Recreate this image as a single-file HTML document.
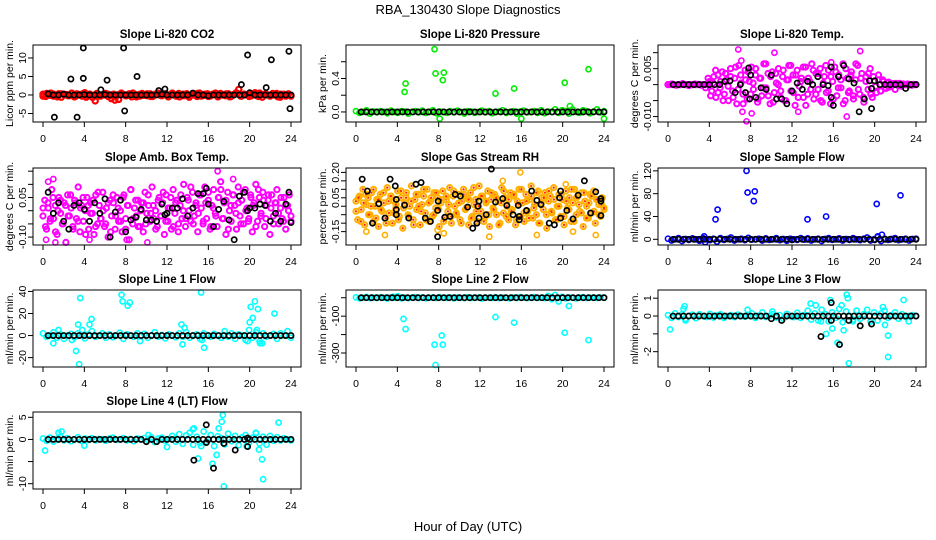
<!DOCTYPE html>
<html><head><meta charset="utf-8"><style>
html,body{margin:0;padding:0;background:#fff;}
svg{display:block;font-family:"Liberation Sans",Arial,sans-serif;}
</style></head><body>
<svg id="chart" width="936" height="540" viewBox="0 0 936 540">
<rect x="0" y="0" width="936" height="540" fill="#fff"/>
<text x="468" y="14" font-size="13" text-anchor="middle">RBA_130430  Slope Diagnostics</text>
<text x="468" y="531" font-size="13" text-anchor="middle">Hour of Day (UTC)</text>
</svg>
<script>
// ---- data arrays ----
const xTicks = [0,4,8,12,16,20,24];
const panelTitles = ["Slope Li-820 CO2","Slope Li-820 Pressure","Slope Li-820 Temp.","Slope Amb. Box Temp.","Slope Gas Stream RH","Slope Sample Flow","Slope Line 1 Flow","Slope Line 2 Flow","Slope Line 3 Flow","Slope Line 4 (LT) Flow"];
const yTitles = ["Licor ppm per min.","kPa per min.","degrees C per min.","degrees C per min.","percent per min.","ml/min per min.","ml/min per min.","ml/min per min.","ml/min per min.","ml/min per min."];

const co2Vals = [0.2,-0.4,0.1,0.5,-0.3,0,0.3,-0.6,0.2,0.1,-0.2,0.4,-0.5,0.3,0,-0.3,0.6,-0.1,0.2,-0.7,-1.6,0.3,-0.2,0.1,0.4,-0.4,0,0.2,-0.3,-1.2,0.5,0.1,-0.2,0.3,-0.5,0.2,0,-0.3,0.4,0.1,-0.2,0.3,-0.4,0.2,0.5,-0.1,0,0.3,-0.5,0.2,0.1,-0.3,0.4,0,-0.2,0.3,-0.6,0.1,0.2,-0.4,0.5,0,-0.1,0.3,-0.3,0.2,0.1,-0.5,0.4,0,-0.2,0.3,-0.4,0.1,0.6,1.5,-0.3,0.2,0,-0.4,0.3,0.1,-0.2,0.5,-0.6,0.2,0,-0.3,0.4,0.1,-0.5,0.2,0,-0.3,0.3,-0.2];
const co2Vals2 = [-0.3,0.4,-0.1,0.2,-0.5,0.3,0,-0.2,0.5,-0.4,0.1,0.3,-0.6,0.2,-0.1,0.4,-0.3,0,0.2,-1.0,-1.4,0.1,0.3,-0.2,0,0.5,-0.5,0.2,-0.1,0.3,-0.4,0,0.4,-0.2,0.1,-0.3,0.5,0,-0.5,0.2,0.3,-0.1,0,0.4,-0.3,0.2,-0.4,0.1,0.5,-0.2,0,0.3,-0.5,0.1,0.4,-0.3,0.2,0,-0.2,0.6,-0.4,0.1,0.3,-0.1,0,0.4,-0.6,0.2,0.1,-0.3];
const co2OutX = [];
const co2OutY = [];
const co2Blk = [0.3,0,0,0.2,0,0,0,0.1,0,0,0,0.1,0,0,0,0,0,0,0,0,0,0,0.2,0,0,0,0,0,0.5,0,0,-0.2,0,0,0,0,0,0,0,0.6,0,0,0,0,0,0,0,0];
const co2BlkOutX = [1.1,2.7,3.3,3.9,3.9,5.6,6.2,7.8,7.9,9.1,11.2,11.8,19.2,19.8,21.6,22.1,23.8,23.9];
const co2BlkOutY = [-6,4.3,-6,12.7,4.5,1.4,4,12.7,-4.3,5,1.2,1.6,2.8,10.8,2,9.5,11.8,-3.7];

const presVals = [0.01,-0.01,0,0.02,-0.02,0.005,-0.005,0.01,0,-0.015,0.015,0,-0.01,0.01,0.005,-0.02,0,0.01,-0.005,0.015,-0.01,0,0.02,-0.015,0.005,0,-0.01,0.01,-0.005,0.015,0,-0.02,0.01,0.005,-0.01,0,0.015,-0.005,0.01,-0.015,0,0.005,0.02,-0.01,0,0.01,-0.02,0.005,0.015,-0.005,0,0.01,-0.01,0.02,-0.015,0.005,0,0.03,-0.01,0.02,0.01,-0.02,0.03,0,-0.01,0.02,0.01,-0.015,0.005,0.03,-0.005,0.01];
const presOutX = [4.7,4.8,7.6,7.7,8.1,8.4,8.5,13.5,15.3,16,20.2,20.7,22.5,24];
const presOutY = [0.24,0.34,0.75,0.46,-0.08,0.38,0.47,0.22,0.28,-0.08,0.35,0.07,0.51,-0.08];
const presBlk = [0,0,0,0,0,0,0,0,0,0,0,0,0,0,0,0,0,0,0,0,0,0,0,0,0,0,0,0,0,0,0,0,0,0,0,0,0,0,0,0,0,0,0,0,0,0,0,0];
const presBlkOutX = [];
const presBlkOutY = [];

const tempVals = [0,0,0.0002,0,-0.0002,0,0,0.0003,0,0,-0.0003,0,0,0.0002,0,0,-0.0002,0,0,0,0.001,-0.002,0.0025,-0.004,0.003,-0.001,0.004,-0.003,0.0015,-0.005,0.005,-0.002,0.002,-0.006,0.006,0.0005,-0.003,0.0045,-0.0045,0.001,0.0055,-0.0015,0.003,-0.0055,0.002,-0.0035,0.0065,-0.001,0.0035,-0.006,0.004,-0.0025,0.0005,0.005,-0.004,0.0025,-0.005,0.0015,0.006,-0.002,0.003,-0.0065,0.0045,-0.0005,0.002,-0.004,0.0055,-0.003,0.001,0.0065,-0.0045,0.0035,-0.0015,0.005,-0.0055,0.0025,-0.0025,0.0045,-0.006,0.001,0.0055,-0.0035,0.003,-0.001,0.0065,-0.005,0.002,-0.002,0.004,-0.0045,0.0015,0.006,-0.003,0.0035,-0.0055,0.0025,-0.0015,0.005,-0.004,0.001,-0.0025,0.003,-0.002,0.0015,-0.001,0.0005,-0.0008,0,0.0003,-0.0015,0,0.0004,-0.0005,0,0,0.0002,0,-0.0002,0,0];
const tempVals2 = [0,0.0001,0,-0.0001,0,0,0.0002,0,-0.0001,0,0,0,0.0001,0,0,-0.001,0.002,-0.0035,0.0005,0.0045,-0.0025,0.001,-0.005,0.0035,-0.0005,0.0025,-0.004,0.0055,-0.0015,0.003,-0.006,0.0015,0.004,-0.003,0.0005,0.005,-0.0045,0.002,-0.001,0.0065,-0.0035,0.0025,-0.0055,0.0035,0.0,-0.002,0.0045,-0.005,0.0015,0.006,-0.0025,0.003,-0.004,0.001,0.0055,-0.0065,0.002,-0.0015,0.0045,-0.003,0.0035,-0.005,0.0005,0.006,-0.002,0.0025,-0.0045,0.004,-0.001,0.0015,-0.006,0.005,-0.0025,0.003,-0.0035,0.0065,-0.0015,0.002,-0.004,0.001,0.0035,-0.003,0.0025,-0.0005,0.0015,-0.002,0.001,-0.0012,0.0008,-0.0006,0,0.0004,-0.0003,0,0.0002,0,-0.0002,0,0.0001,0];
const tempOutX = [6.8,7.1,7.6,10.3,15.8,17.3,18.6,7.2,8.1,12.6];
const tempOutY = [0.011,0.0075,-0.0115,0.0100,0.007,-0.010,0.0105,-0.0085,-0.009,-0.0085];
const tempBlk = [0,0,0,0,0,0,0,0,0,0,0.001,0.0012,-0.0025,0,-0.0025,0.003,-0.004,-0.001,-0.0015,0.003,-0.0045,-0.0045,-0.006,-0.002,0.0005,-0.0015,0.001,0,0.0025,0,-0.0003,-0.0065,0.0025,0.006,0.0018,0.0005,-0.0085,-0.0045,0.0012,0.0012,0,0,0,0,0,-0.0012,0,0];
const tempBlkOutX = [7.8,7.9,15.8,15.8,19.7,19.7];
const tempBlkOutY = [0.0052,-0.0045,0.0055,-0.004,-0.0075,-0.0012];

const ambVals = [-0.02,0.04,-0.07,0.01,-0.04,0.08,-0.03,0.02,-0.09,0.05,-0.01,-0.05,0.03,-0.12,0.06,-0.02,0.01,-0.06,0.04,-0.03,0.09,-0.08,0.02,-0.04,0.0,0.05,-0.07,0.03,-0.01,-0.09,0.06,-0.05,0.02,-0.03,0.07,-0.06,0.01,-0.1,0.04,-0.02,0.03,-0.07,0.05,-0.04,0.0,-0.08,0.06,-0.03,0.02,-0.11,0.08,-0.05,0.01,-0.02,0.04,-0.06,0.03,-0.08,0.07,-0.01,0.02,-0.04,0.09,-0.03,0.0,-0.06,0.05,-0.02,0.03,-0.09,0.06,-0.04,0.01,-0.07,0.08,-0.01,0.04,-0.05,0.02,-0.03,0.1,-0.06,0.05,0.0,-0.04,0.07,-0.02,0.03,-0.08,0.06,0.01,-0.05,0.09,-0.03,0.04,-0.07,0.02,0.08,-0.01,-0.06,0.05,0.11,-0.03,0.03,-0.09,0.07,0.0,-0.04,0.06,0.02,-0.07,0.09,-0.02,0.04,-0.05,0.08,0.01,-0.03,0.06,-0.08,0.03,0.1,-0.04,0.05,-0.01,0.07,-0.06,0.02,0.04,-0.09,0.06,-0.02,0.03,0.08,-0.05,0.01,-0.03,0.05,-0.07,0.02,0.06,-0.04];
const ambVals2 = [0.01,-0.06,0.03,-0.03,0.05,-0.08,0.0,0.04,-0.05,0.02,-0.02,0.06,-0.07,0.03,-0.04,0.01,0.05,-0.09,0.02,-0.01,0.04,-0.06,0.07,-0.03,0.0,-0.05,0.03,-0.08,0.06,-0.02,0.01,-0.04,0.05,-0.07,0.02,0.08,-0.03,0.04,-0.06,0.0,0.03,-0.05,0.06,-0.01,0.02,-0.07,0.04,-0.02,0.07,-0.04,0.01,0.05,-0.06,0.03,-0.08,0.06,0.0,-0.03,0.04,0.09,-0.05,0.02,-0.01,0.06,-0.04,0.03,0.07,-0.06,0.01,-0.02,0.05,0.08,-0.03,0.04,-0.07,0.02,0.06,-0.01,0.03,-0.05,0.07,0.0,-0.04,0.05,0.02,-0.06,0.08,-0.02,0.04,-0.03,0.06,0.01,-0.05,0.03,-0.01,0.05,-0.04,0.02,0.0,-0.02];
const ambOutX = [0.5,1.0,0.3,1.2,16.9,18.4,10.1,4.5,8.1];
const ambOutY = [0.11,0.12,-0.11,-0.12,0.15,0.12,-0.12,-0.11,-0.11];
const ambBlk = [0.07,-0.01,0.03,-0.04,-0.07,0.02,0.03,0.005,-0.04,0.03,-0.01,0.045,-0.1,-0.005,0.04,-0.08,-0.035,-0.025,0.005,-0.035,-0.035,-0.04,0.025,-0.01,0.01,0.01,0.045,-0.02,0.01,0.065,0.065,0.025,-0.06,0.005,0.035,-0.035,-0.11,0.055,0.07,0.01,0.01,0.025,0.02,-0.04,-0.01,-0.04,0.025,-0.045];
const ambBlkOutX = [15.8,23.8,19.8,11.8];
const ambBlkOutY = [0.085,0.07,0.0,-0.015];

const rhVals = [0.03,-0.08,0.06,-0.02,0.1,-0.11,0.01,0.05,-0.05,0.08,-0.09,0.0,0.04,-0.12,0.07,-0.03,0.02,-0.07,0.11,-0.04,0.06,-0.1,0.03,-0.01,0.09,-0.06,0.05,-0.13,0.02,0.08,-0.05,0.0,0.12,-0.08,0.04,-0.02,0.07,-0.11,0.01,0.06,-0.04,0.1,-0.09,0.03,-0.06,0.08,-0.01,0.05,-0.12,0.02,0.09,-0.07,0.04,-0.03,0.11,-0.1,0.06,0.0,-0.05,0.07,-0.08,0.03,0.1,-0.02,0.05,-0.11,0.08,-0.06,0.01,0.04,-0.09,0.12,-0.03,0.06,-0.07,0.02,0.09,-0.12,0.04,-0.01,0.07,-0.05,0.03,-0.1,0.11,-0.04,0.05,0.0,-0.08,0.08,-0.02,0.06,-0.11,0.03,0.1,-0.06,0.02,-0.09,0.07,-0.03,0.04,0.12,-0.07,0.01,-0.05,0.09,-0.1,0.05,-0.02,0.08,-0.13,0.03,0.06,-0.04,0.11,-0.08,0.0,0.07,-0.06,0.04,-0.11,0.09,-0.01,0.05,-0.09,0.02,0.1,-0.05,0.06,-0.03,0.08,-0.12,0.03,0.0,-0.07,0.07,-0.04,0.09,-0.1,0.04,0.01,-0.06,0.05,-0.02];
const rhVals2 = [-0.03,0.05,-0.09,0.02,0.07,-0.05,0.0,0.1,-0.07,0.04,-0.02,0.08,-0.1,0.03,0.06,-0.04,0.01,-0.08,0.09,-0.01,0.05,-0.06,0.03,-0.11,0.07,0.0,-0.03,0.1,-0.08,0.02,0.05,-0.05,0.08,-0.02,0.04,-0.09,0.06,0.01,-0.06,0.09,-0.04,0.02,-0.1,0.07,-0.01,0.04,-0.07,0.11,-0.03,0.0,0.06,-0.09,0.03,-0.05,0.08,-0.02,0.05,-0.11,0.02,0.09,-0.06,0.04,-0.03,0.07,-0.08,0.01,0.1,-0.04,0.03,-0.07,0.06,-0.01,0.08,-0.1,0.02,0.05,-0.05,0.09,-0.03,0.04,-0.08,0.0,0.07,-0.06,0.03,-0.02,0.1,-0.09,0.05,0.01,-0.04,0.08,-0.07,0.02,0.06,-0.03,0.04,-0.05,0.01,-0.01];
const rhOutX = [1.0,2.8,7.9,8.5,12.9,15.9,17.5,21.0,23.2,14.2,20.3];
const rhOutY = [-0.15,-0.17,-0.14,-0.16,-0.18,0.2,-0.17,-0.15,-0.17,0.15,0.13];
const rhBlk = [];
const rhBlkOutX = [0.6,1.1,1.6,2.2,2.8,3.3,3.8,3.9,3.9,3.9,4.7,5.1,5.8,6.3,6.7,7.2,7.9,7.95,7.9,8.6,9.1,9.6,10.1,10.8,11.3,11.7,11.8,11.9,11.9,12.6,13.1,13.5,14.2,14.6,15.2,15.7,15.8,15.8,16.5,17,17.5,17.9,18.7,19.2,19.7,19.8,19.8,20.4,21,21.5,22.1,22.7,23.2,23.7,23.7,23.7];
const rhBlkOutY = [0.16,0.09,-0.10,0.015,-0.07,0.16,0.12,0.04,-0.02,-0.05,0.007,-0.07,0.13,0.14,-0.07,-0.09,-0.025,0.03,-0.18,-0.065,-0.06,0.07,0.06,-0.005,-0.13,-0.1,0.0,0.03,-0.07,-0.05,0.22,0.025,0.045,0.005,-0.05,0.005,-0.06,-0.08,-0.025,0.09,0.035,0.01,-0.1,-0.11,0.05,0.09,-0.07,-0.025,-0.075,0.065,0.15,-0.04,0.085,0.03,0.045,-0.055];

const flowVals = [1,-2,0,2,-3,0.5,-1,1.5,0,-2.5,2,0,-1.5,1,-4,2,-1,0.5,3,-2,0,1,-1.5,2.5,-0.5,0,1,-2,1.5,-1,0,2,-1.5,0.5,-2.5,1,0,-1,2,-0.5,1.5,-2,0,1,-3,0.5,2,-1,0,1.5,-2,0.5,-1,2,0,-1.5,1,3,-2,0,4,-3,1,-1,0.5,2,-1.5,0,1,-2,0.5,1];
const flowOutX = [3.5,3.6,4.6,4.8,7.6,7.7,8.3,8.4,13.5,15.3,20.2,20.3,20.7,22.5];
const flowOutY = [5,-5,35,52,120,82,67,84,35,40,62,5,8,77];
const flowBlk = [0,0,0,0,0,0,0,0,0,0,0,0,0,0,0,0,0,0,0,0,0,0,0,-1,0,0,0,0,0,0,0,0,0,0,0,0,0,0,0,-1,0,0,0,0,0,0,0,0];
const flowBlkOutX = [];
const flowBlkOutY = [];

const l1Vals = [2,-1,0,3,-2,1,-3,0,1.5,-1.5,2,0,-2.5,1,4,-1,0,2,-2,1,-1.5,0,2.5,-3,1,0,-1,2,-0.5,1.5,-2,0,3,-1,0.5,-2.5,1,0,-1.5,2,-1,3,-2,0,1,-3,2,0.5,-1,1.5,0,-2,4,-1,2,-3,1,0,-4,5,-2,3,-5,2,-1,0,1.5,-3,2,0,4,-2];
const l1OutX = [1.0,1.5,2.8,3.2,3.4,3.5,3.6,3.8,4.5,4.7,7.6,7.7,8.2,8.4,9.4,13.4,13.5,13.7,15.3,15.4,15.6,19.8,20.0,20.1,20.3,20.5,20.8,20.7,21.0,21.2,22.4];
const l1OutY = [-7,5,-4,-14,10,-26,34,5,10,15,37,31,27,30,-5,10,-8,7,39,-4,-11,-5,12,26,16,31,24,5,-7,-7,20];
const l1Blk = [0,0,0,0,0,0,0,0,0,0,0,0,0,0,0,0,0,0,0,0,0,0,0,0,0,0,0,0,0,0,0,0,0,0,0,0,0,0,0,0,0,0,0,0,0,0,0,0];
const l1BlkOutX = [];
const l1BlkOutY = [];

const l2Vals = [2,-3,0,4,-2,1,-1,3,0,-4,2,0,8,-3,1,-2,0,3,-1,2,-3,0,1,-2,4,0,-1,2,-3,1,0,-2,3,-1,0,2,-4,1,0,-1,3,-2,1,0,-3,2,-1,4,0,-2,1,3,-1,0,-2,10,-8,15,-20,5,-3,2,0,-4,1,3,-2,0,1,-1,2,0];
const l2OutX = [3.6,4.6,4.8,7.6,7.7,8.3,8.4,13.5,15.3,20.2,20.6,22.5];
const l2OutY = [5,-115,-170,-255,-365,-205,-255,-105,-135,-190,-45,-230];
const l2Blk = [0,0,0,0,0,0,0,0,0,0,0,0,0,0,0,0,0,0,0,0,0,0,0,0,0,0,0,0,0,0,0,0,0,0,0,0,0,0,0,0,0,0,0,0,0,0,0,0];
const l2BlkOutX = [];
const l2BlkOutY = [];

const l3Vals = [0.05,-0.1,0.15,-0.05,0.1,-0.15,0,0.08,-0.12,0.1,0,-0.05,0.12,-0.08,0.03,0.1,-0.1,0,0.05,-0.06,0.08,0,-0.04,0.06,0.15,-0.1,0.02,0.2,-0.05,0,0.1,-0.08,0.05,-0.15,0.12,0,-0.06,0.18,-0.1,0.05,0.3,-0.2,0.15,-0.25,0.35,0.1,-0.3,0.2,-0.1,0.4,-0.35,0.25,0,-0.2,0.3,-0.15,0.1,0.35,-0.3,0.2,-0.25,0.15,0.3,-0.1,0.05,0.2,-0.15,0.1,-0.05,0,0.05,0];
const l3OutX = [0.2,1.5,1.7,1.6,7.7,10.1,13.8,14.3,14.8,15.3,15.7,15.9,16.4,16.8,17.0,17.3,17.4,17.5,17.9,19.6,20.8,21.0,21.3,21.3,22.8,23.3];
const l3OutY = [-0.75,0.4,-0.25,0.55,0.35,0.25,0.7,0.6,-0.3,-1,0.9,-0.7,-1.5,0.6,-0.8,1.2,1,-2.65,-0.3,-0.3,0.5,-0.5,-1.1,-2.3,0.9,-0.3];
const l3Blk = [0,0,0,0,0,0,0,0,0,0,0,0,0,0,0,0,0,0,0,-0.15,0,-0.25,0,0,0,0,0,0,0,0,0,0,0,0,0,0,0,0,0,0,0,0,0,0,0,0,0,0];
const l3BlkOutX = [15.8,15.8,14.8,16.6,17.5,18.6,19.7];
const l3BlkOutY = [0.75,-0.25,-1.15,-1.6,-0.25,-0.55,-0.45];

const l4Vals = [0.2,-0.3,0.4,-0.5,0.1,0.6,-0.2,0.3,-0.4,0,0.5,-0.3,0.2,-0.1,0.3,-0.2,0.1,0,-0.3,0.2,0.4,-0.1,0,0.3,-0.2,0.1,-0.4,0.2,0,0.3,-0.1,0.5,-0.6,0.2,0.4,-0.3,0.1,0.8,-0.5,1.2,-1,0.9,1.5,-1.2,0.6,-0.8,1.8,-0.5,1,-1.5,0.7,0.3,-1.1,1.3,-0.4,0.8,-1.3,0.5,1,-0.7,0.4,1.4,-0.9,0.6,-1.2,0.8,-0.3,0.5,-0.2,0.3,0,-0.2];
const l4OutX = [0.2,1.5,1.8,4,10.2,12,14.5,14.6,15,15.3,16.4,16.8,17,17.3,17.4,17.5,19.7,20.6,20.9,21.2,21.3,22.8];
const l4OutY = [-2.5,1.5,1.8,-1.4,1,-1.7,2.3,2.5,-4.3,-1.5,-5.5,-3.5,2.5,4,5.5,-10.6,-1.5,1.5,-2.3,-4.5,-9,3.8];
const l4Blk = [0,0,0,0,0,0,0,0,0,0,0,0,0,0,0,0,0,0,0,-0.5,0,-0.5,0,0,0,0,0,0,0,0,0,0,0,0,0,0,0,0,0,0,0,0,0,0,0,0,0,0];
const l4BlkOutX = [14.6,15.8,15.8,16.5,17.5,18.6,19.8,19.8];
const l4BlkOutY = [-4.7,3.3,-0.7,-6.5,-0.9,-2.4,-1.6,0.3];

const yTicks = [[-5,0,5,10],[0,0.2,0.4,0.6],[-0.01,-0.005,0,0.005,0.01],[-0.10,-0.05,0,0.05,0.10,0.15],[-0.15,-0.10,-0.05,0,0.05,0.10,0.15,0.20],[0,40,80,120],[-20,0,20,40],[-300,-200,-100,0],[-2,-1,0,1],[-10,-5,0,5]];
const yTickLabels = [["-5","0","5","10"],["0.0","","0.4",""],["-0.010","","","0.005",""],["-0.10","","","0.05","",""],["-0.15","","","","0.05","","","0.20"],["0","40","80","120"],["-20","0","20","40"],["-300","","-100",""],["-2","","0","1"],["-10","","0","5"]];

// ---- layout ----
const panels = [
 {col:0,row:0,yMin:-7.3,yMax:13.5,c:"#ff0000",sw:2.2,v:co2Vals,v2:co2Vals2,ox:co2OutX,oy:co2OutY,b:co2Blk,bx:co2BlkOutX,by:co2BlkOutY},
 {col:1,row:0,yMin:-0.12,yMax:0.80,c:"#00ee00",v:presVals,ox:presOutX,oy:presOutY,b:presBlk,bx:presBlkOutX,by:presBlkOutY},
 {col:2,row:0,yMin:-0.0117,yMax:0.0124,c:"#ff00ff",sw:2,v:tempVals,v2:tempVals2,ox:tempOutX,oy:tempOutY,b:tempBlk,bx:tempBlkOutX,by:tempBlkOutY},
 {col:0,row:1,yMin:-0.13,yMax:0.162,c:"#ff00ff",sw:2,v:ambVals,v2:ambVals2,ox:ambOutX,oy:ambOutY,b:ambBlk,bx:ambBlkOutX,by:ambBlkOutY},
 {col:1,row:1,yMin:-0.229,yMax:0.226,c:"#ffb000",c2:"#ff2000",sw:2,v:rhVals,v2:rhVals2,ox:rhOutX,oy:rhOutY,b:rhBlk,bx:rhBlkOutX,by:rhBlkOutY},
 {col:2,row:1,yMin:-10,yMax:125,c:"#0000ff",v:flowVals,ox:flowOutX,oy:flowOutY,b:flowBlk,bx:flowBlkOutX,by:flowBlkOutY},
 {col:0,row:2,yMin:-28.5,yMax:41.3,c:"#00ffff",v:l1Vals,ox:l1OutX,oy:l1OutY,b:l1Blk,bx:l1BlkOutX,by:l1BlkOutY},
 {col:1,row:2,yMin:-376,yMax:42,c:"#00ffff",v:l2Vals,ox:l2OutX,oy:l2OutY,b:l2Blk,bx:l2BlkOutX,by:l2BlkOutY},
 {col:2,row:2,yMin:-2.86,yMax:1.46,c:"#00ffff",v:l3Vals,ox:l3OutX,oy:l3OutY,b:l3Blk,bx:l3BlkOutX,by:l3BlkOutY},
 {col:0,row:3,yMin:-11.2,yMax:6.2,c:"#00ffff",v:l4Vals,ox:l4OutX,oy:l4OutY,b:l4Blk,bx:l4BlkOutX,by:l4BlkOutY}
];
const colLeft = [33,346,658], rowTop = [45,168,290,412], boxW = 268, boxH = 77;
const NS = "http://www.w3.org/2000/svg";
const svg = document.getElementById("chart");
function mk(tag, attrs, parent){ const e=document.createElementNS(NS,tag); for(const k in attrs) e.setAttribute(k,attrs[k]); (parent||svg).appendChild(e); return e; }

panels.forEach((p,i)=>{
  const L=colLeft[p.col], T=rowTop[p.row], B=T+boxH;
  const xs = h => L+10 + h*(248/24);
  const ys = v => B - (v-p.yMin)/(p.yMax-p.yMin)*boxH;
  const sw = p.sw || 1.6;
  const g = mk("g",{});
  
  
  const t = mk("text",{x:L+boxW/2,y:T-7,"font-size":"11.5","font-weight":"bold","text-anchor":"middle"},g);
  t.textContent = panelTitles[i];
  
  
  const yt = mk("text",{transform:`translate(${L-20},${T+boxH/2}) rotate(-90)`,"font-size":"10.5","text-anchor":"middle"},g);
  yt.textContent = yTitles[i];
  
  
  const pts = mk("g",{},g);
  
  
  const drawSeries = (arr)=>{
    const n=arr.length;
    arr.forEach((v,k)=>{
      const h = k*24/(n-1);
      const c = mk("circle",{cx:xs(h),cy:ys(v),r:2.6,fill:"none",stroke:p.c,"stroke-width":sw},pts);
      
      
      if(p.c2){ const d=mk("circle",{cx:xs(h),cy:ys(v),r:1.1,fill:p.c2},pts);
        
         }
    });
  };
  drawSeries(p.v);
  if(p.v2) drawSeries(p.v2);
  p.ox.forEach((h,k)=>{
    const c = mk("circle",{cx:xs(h),cy:ys(p.oy[k]),r:2.6,fill:"none",stroke:p.c,"stroke-width":1.6},pts);
    
    
  });
  p.b.forEach((v,k)=>{
    const c = mk("circle",{cx:xs((k+1)*0.5),cy:ys(v),r:2.6,fill:"none",stroke:"#000","stroke-width":1.7},pts);
    
    
  });
  p.bx.forEach((h,k)=>{
    const c = mk("circle",{cx:xs(h),cy:ys(p.by[k]),r:2.6,fill:"none",stroke:"#000","stroke-width":1.7},pts);
    
    
  });
  const box = mk("rect",{x:L,y:T,width:boxW,height:boxH,fill:"none",stroke:"#000","stroke-width":1},g);
  
  
  xTicks.forEach(h=>{
    const x=xs(h);
    mk("line",{x1:x,y1:B,x2:x,y2:B+5,stroke:"#000"},g);
    const tl = mk("text",{x:x,y:B+20,"font-size":"10.5","text-anchor":"middle"},g);
    tl.textContent = String(h);
    
    
  });
  yTicks[i].forEach((v,k)=>{
    const y=ys(v);
    mk("line",{x1:L,y1:y,x2:L-5,y2:y,stroke:"#000"},g);
    const s = yTickLabels[i][k];
    if(s){
      const tl = mk("text",{transform:`translate(${L-7},${y}) rotate(-90)`,"font-size":"10.5","text-anchor":"middle"},g);
      tl.textContent = s;
      
      
    }
  });
});
</script>
</body></html>
